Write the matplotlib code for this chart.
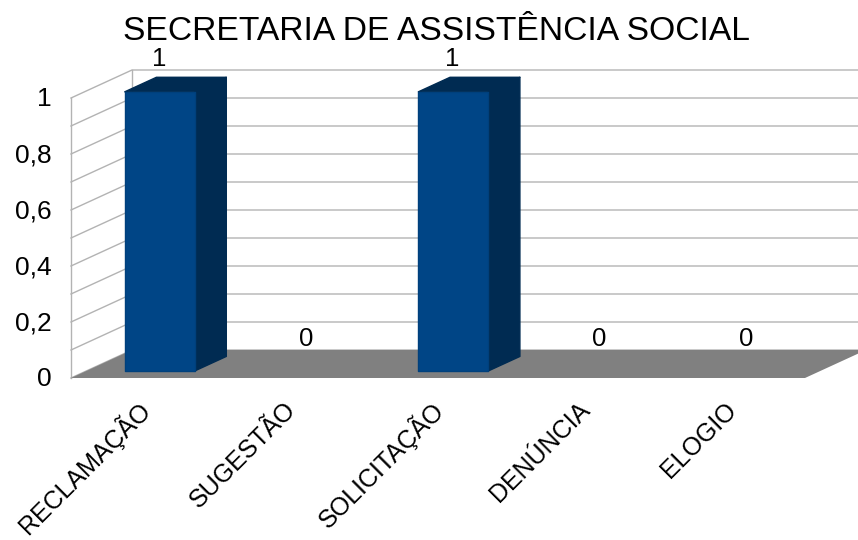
import matplotlib
matplotlib.use("Agg")
from matplotlib import pyplot as plt
from matplotlib.patches import Polygon

plt.rcParams['font.family'] = ['Liberation Sans', 'DejaVu Sans']

title = "SECRETARIA DE ASSISTÊNCIA SOCIAL"
categories = ["RECLAMAÇÃO", "SUGESTÃO", "SOLICITAÇÃO", "DENÚNCIA", "ELOGIO"]
values = [1, 0, 1, 0, 0]
y_ticks = [0, 0.2, 0.4, 0.6, 0.8, 1]
y_tick_labels = ["0", "0,2", "0,4", "0,6", "0,8", "1"]
grid_levels = [0, 0.1, 0.2, 0.3, 0.4, 0.5, 0.6, 0.7, 0.8, 0.9, 1]

# fake 3d, LibreOffice style: x in categories, y in value, z in depth (0 front, 1 back)
X0, Y0 = 71, 378
CAT_W = 146.8
VAL_H = 280
DX, DY = 61, -28
GRID = "#b3b3b3"


def proj(c, v, z=0):
    return (X0 + CAT_W * c + DX * z, Y0 - VAL_H * v + DY * z)


fig = plt.figure(figsize=(8.58, 5.40), dpi=100)
ax = fig.add_axes([0, 0, 1, 1])
ax.set_xlim(0, 858)
ax.set_ylim(540, 0)
ax.axis("off")

n = len(categories)

# walls
for lev in grid_levels:
    xs, ys = zip(proj(0, lev, 0), proj(0, lev, 1), proj(n, lev, 1))
    ax.plot(xs, ys, color=GRID, lw=1.0, zorder=1)
xs, ys = zip(proj(0, 0, 0), proj(0, 1, 0))
ax.plot(xs, ys, color=GRID, lw=1.0, zorder=1)
xs, ys = zip(proj(0, 0, 1), proj(0, 1, 1))
ax.plot(xs, ys, color=GRID, lw=1.0, zorder=1)

# floor
floor = [proj(0, 0, 0), proj(n, 0, 0), proj(n, 0, 1), proj(0, 0, 1)]
ax.add_patch(Polygon(floor, closed=True, fc="#808080", ec="none", zorder=2))

# bars
GAP = 0.262
Z1, Z2 = 0.25, 0.77
for i, v in enumerate(values):
    c1, c2 = i + GAP, i + 1 - GAP
    if v > 0:
        # height a hair under the full value so the top edge lands where the reference has it
        h = v * 0.997
        side = [proj(c2, 0, Z1), proj(c2, 0, Z2), proj(c2, h, Z2), proj(c2, h, Z1)]
        top = [proj(c1, h, Z1), proj(c1, h, Z2), proj(c2, h, Z2), proj(c2, h, Z1)]
        front = [proj(c1, 0, Z1), proj(c2, 0, Z1), proj(c2, h, Z1), proj(c1, h, Z1)]
        ax.add_patch(Polygon(side, closed=True, fc="#002b52", ec="#002b52", lw=1.0, joinstyle="round", zorder=3))
        ax.add_patch(Polygon(top, closed=True, fc="#002b52", ec="#002b52", lw=1.0, joinstyle="round", zorder=3))
        ax.add_patch(Polygon(front, closed=True, fc="#004586", ec="#00407c", lw=1.0, joinstyle="round", zorder=4))
    lx, ly = proj(i + 0.5, v, 0.5)
    ax.text(lx - 16, ly - 25, str(v), ha="center", va="center", fontsize=18.5, zorder=5)

# value axis labels
for t, lab in zip(y_ticks, y_tick_labels):
    x, y = proj(0, t, 0)
    ax.text(x - 19, y + 1.5, lab, ha="right", va="center", fontsize=19, zorder=5)

# category labels
for i, cat in enumerate(categories):
    x, y = proj(i + 0.5, 0, 0)
    ax.text(x + 1, y + 28, cat, rotation=45, rotation_mode="anchor", ha="right", va="center", fontsize=18, zorder=5)

ax.text(436, 32, title, ha="center", va="center", fontsize=24.2, zorder=5)

fig.savefig("out.png", dpi=100)
